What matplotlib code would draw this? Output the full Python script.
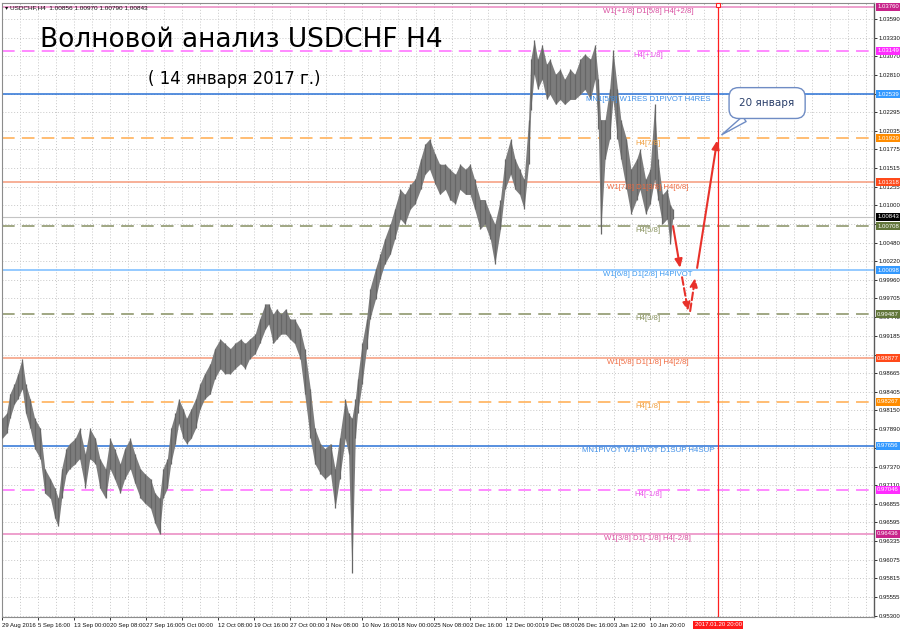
import matplotlib
matplotlib.use('Agg')
import matplotlib.pyplot as plt
import matplotlib.transforms as mtransforms
import numpy as np

# H4 bars (bar index, high, low)
bar = [0, 4, 7, 11, 14, 18, 21, 25, 29, 34, 38, 43, 47, 50, 53, 57, 60, 65, 69, 74,
       78, 83, 87, 92, 96, 100, 105, 109, 114, 118, 123, 127, 132, 136, 140, 143, 147, 150, 154, 157,
       161, 164, 168, 172, 176, 180, 185, 189, 194, 198, 203, 207, 212, 216, 220, 225, 229, 234, 237, 241,
       244, 248, 252, 256, 260, 265, 269, 274, 278, 283, 287, 292, 296, 300, 305, 308, 311, 314, 316, 320,
       324, 327, 332, 336, 340, 345, 349, 354, 358, 363, 367, 372, 376, 380, 385, 389, 394, 398, 403, 407,
       412, 416, 420, 425, 429, 434, 438, 443, 447, 452, 456, 460, 464, 468, 470, 473, 476, 480, 484, 487,
       492, 496, 500, 505, 509, 514, 518, 523, 527, 530, 532, 536, 540, 543, 547, 550, 555, 559, 564, 567,
       572, 576, 580, 583, 587, 591, 594, 596]
high = [0.9804, 0.9811, 0.9838, 0.9852, 0.9866, 0.9887, 0.9852, 0.9831, 0.9804, 0.9790,
        0.9734, 0.9720, 0.9707, 0.9693, 0.9734, 0.9762, 0.9769, 0.9776, 0.9790, 0.9755,
        0.9790, 0.9776, 0.9748, 0.9734, 0.9776, 0.9762, 0.9741, 0.9762, 0.9776, 0.9755,
        0.9734, 0.9727, 0.9720, 0.9700, 0.9693, 0.9734, 0.9748, 0.9790, 0.9811, 0.9831,
        0.9817, 0.9804, 0.9817, 0.9831, 0.9852, 0.9866, 0.9880, 0.9901, 0.9914, 0.9908,
        0.9901, 0.9908, 0.9914, 0.9908, 0.9914, 0.9921, 0.9942, 0.9963, 0.9963, 0.9949,
        0.9956, 0.9949, 0.9956, 0.9942, 0.9942, 0.9928, 0.9901, 0.9845, 0.9790, 0.9769,
        0.9762, 0.9769, 0.9734, 0.9776, 0.9831, 0.9811, 0.9804, 0.9831, 0.9859, 0.9908,
        0.9942, 0.9984, 1.0012, 1.0032, 1.0053, 1.0074, 1.0095, 1.0122, 1.0115, 1.0129,
        1.0136, 1.0164, 1.0185, 1.0192, 1.0171, 1.0157, 1.0157, 1.0150, 1.0143, 1.0157,
        1.0150, 1.0157, 1.0136, 1.0108, 1.0108, 1.0088, 1.0074, 1.0108, 1.0164, 1.0192,
        1.0164, 1.0150, 1.0136, 1.0219, 1.0303, 1.0330, 1.0303, 1.0323, 1.0296, 1.0303,
        1.0282, 1.0289, 1.0275, 1.0289, 1.0282, 1.0303, 1.0310, 1.0303, 1.0323, 1.0275,
        1.0219, 1.0219, 1.0261, 1.0316, 1.0261, 1.0219, 1.0192, 1.0150, 1.0164, 1.0178,
        1.0136, 1.0150, 1.0240, 1.0164, 1.0115, 1.0122, 1.0101, 1.0095]
low = [0.9776, 0.9783, 0.9804, 0.9824, 0.9831, 0.9845, 0.9811, 0.9790, 0.9762, 0.9748,
       0.9700, 0.9693, 0.9665, 0.9654, 0.9693, 0.9727, 0.9734, 0.9741, 0.9748, 0.9707,
       0.9748, 0.9741, 0.9707, 0.9693, 0.9734, 0.9720, 0.9700, 0.9720, 0.9734, 0.9714,
       0.9693, 0.9686, 0.9679, 0.9658, 0.9644, 0.9693, 0.9707, 0.9741, 0.9769, 0.9797,
       0.9776, 0.9769, 0.9776, 0.9790, 0.9817, 0.9831, 0.9838, 0.9859, 0.9873, 0.9866,
       0.9866, 0.9873, 0.9880, 0.9873, 0.9887, 0.9894, 0.9908, 0.9928, 0.9935, 0.9908,
       0.9914, 0.9921, 0.9921, 0.9914, 0.9908, 0.9887, 0.9838, 0.9776, 0.9741, 0.9727,
       0.9720, 0.9727, 0.9679, 0.9720, 0.9776, 0.9755, 0.9589, 0.9776, 0.9811, 0.9852,
       0.9901, 0.9942, 0.9970, 0.9998, 1.0018, 1.0032, 1.0053, 1.0081, 1.0074, 1.0095,
       1.0102, 1.0122, 1.0143, 1.0150, 1.0129, 1.0115, 1.0122, 1.0108, 1.0102, 1.0122,
       1.0115, 1.0115, 1.0095, 1.0067, 1.0074, 1.0053, 1.0018, 1.0067, 1.0122, 1.0143,
       1.0122, 1.0115, 1.0095, 1.0157, 1.0233, 1.0282, 1.0261, 1.0275, 1.0247, 1.0254,
       1.0240, 1.0247, 1.0240, 1.0247, 1.0247, 1.0254, 1.0261, 1.0247, 1.0275, 1.0206,
       1.0060, 1.0164, 1.0192, 1.0247, 1.0192, 1.0164, 1.0122, 1.0088, 1.0108, 1.0122,
       1.0088, 1.0102, 1.0136, 1.0108, 1.0074, 1.0081, 1.0046, 1.0081]

# Murrey levels
levels = [1.03760, 1.03149, 1.02539, 1.01929, 1.01318, 1.00708, 1.00098,
          0.99487, 0.98877, 0.98267, 0.97656, 0.97046, 0.96436]
level_names = ['W1[+1/8] D1[5/8] H4[+2/8]', 'H4[+1/8]', 'MN1[5/8] W1RES D1PIVOT H4RES',
               'H4[7/8]', 'W1[7/8] D1[3/8] H4[6/8]', 'H4[5/8]', 'W1[6/8] D1[2/8] H4PIVOT',
               'H4[3/8]', 'W1[5/8] D1[1/8] H4[2/8]', 'H4[1/8]', 'MN1PIVOT W1PIVOT D1SUP H4SUP',
               'H4[-1/8]', 'W1[3/8] D1[-1/8] H4[-2/8]']
level_kind = ['pink', 'magenta', 'blue', 'orange', 'salmon', 'olive', 'lblue',
              'olive', 'salmon', 'orange', 'blue', 'magenta', 'pink']
styles = {  # line colour, text colour, box colour, dashed
    'pink': ('#ea86c0', '#d94fa0', '#c8238a', False),
    'magenta': ('#ff80ff', '#e94fe9', '#ff2cff', True),
    'blue': ('#2a72d6', '#3f8fe8', '#3399ff', False),
    'orange': ('#ffb868', '#f0a040', '#ff8c00', True),
    'salmon': ('#f59a7a', '#f06a40', '#ff4a1a', False),
    'olive': ('#98a07a', '#8a9460', '#62763a', True),
    'lblue': ('#78bcff', '#3f9af0', '#3399ff', False),
}
last_price = 1.00843

ytick_vals = [1.03590, 1.03330, 1.03070, 1.02810, 1.02550, 1.02295, 1.02035, 1.01775, 1.01515,
              1.01255, 1.01000, 1.00740, 1.00480, 1.00220, 0.99960, 0.99705, 0.99445, 0.99185,
              0.98925, 0.98665, 0.98405, 0.98150, 0.97890, 0.97630, 0.97370, 0.97110, 0.96855,
              0.96595, 0.96335, 0.96075, 0.95815, 0.95555, 0.95300]
# these four sit right under a level box in the reference
hidden_ticks = [1.02550, 1.00740, 0.98925, 0.97630]
xtick_pos = [0, 32, 64, 96, 128, 160, 192, 224, 256, 288, 320, 352, 384, 416, 448, 480, 512, 544, 576]
xtick_labels = ['29 Aug 2016', '5 Sep 16:00', '13 Sep 00:00', '20 Sep 08:00', '27 Sep 16:00',
                '5 Oct 00:00', '12 Oct 08:00', '19 Oct 16:00', '27 Oct 00:00', '3 Nov 08:00',
                '10 Nov 16:00', '18 Nov 00:00', '25 Nov 08:00', '2 Dec 16:00', '12 Dec 00:00',
                '19 Dec 08:00', '26 Dec 16:00', '3 Jan 12:00', '10 Jan 20:00']

# forecast path (bar, price)
fc_down = [(596.4, 1.0071), (602.7, 1.0013)]
fc_dash1 = [(604.4, 1.0000), (609.8, 0.9953)]
fc_dash2 = [(611.6, 0.9953), (616.0, 0.9999)]
fc_up = [(617.8, 1.0013), (635.6, 1.0190)]
target_bar = 636.4

small = 'Liberation Sans'

fig = plt.figure(figsize=(9, 6.29), dpi=100)
ax = fig.add_axes([2/900, 12/629, 872/900, 614/629])
ax.set_xlim(0, 775)
ax.set_ylim(0.9528, 1.0381)

# grid
ax.set_xticks(np.arange(0, 776, 16), minor=True)
ax.set_yticks(ytick_vals)
ax.grid(True, which='both', axis='x', color='#c8c8c8', ls=(0, (1, 2)), lw=0.7)
ax.grid(True, which='major', axis='y', color='#c8c8c8', ls=(0, (1, 2)), lw=0.7)
ax.tick_params(axis='x', which='minor', length=0)

# levels
for lv, name, kind in zip(levels, level_names, level_kind):
    lc, tc, bc, dashed = styles[kind]
    ax.axhline(lv, color=lc, lw=1.3 if dashed else 1.1, ls=(0, (7, 4)) if dashed else '-', zorder=2)
    ax.text(574, lv - 0.00016, name, ha='center', va='top', fontsize=5.6, family=small,
            color=tc, zorder=4)
ax.axhline(last_price, color='#c4c4c4', lw=0.8, zorder=2)

# price bars
ax.fill_between(bar, low, high, color='#7c7c7c', lw=0, zorder=3)
ax.vlines(bar, low, high, color='#666666', lw=0.9, zorder=3)

# target vertical line
ax.axvline(target_bar, color='#ff2020', lw=0.9, zorder=3)
ax.plot([target_bar], [1.0378], marker='s', ms=3, mfc='white', mec='#ff2020', mew=0.8,
        clip_on=False, zorder=5)

# forecast arrows
for seg, ls in [(fc_down, '-'), (fc_dash1, '--'), (fc_dash2, '--'), (fc_up, '-')]:
    ax.annotate('', xy=seg[1], xytext=seg[0],
                arrowprops=dict(arrowstyle='-|>,head_length=0.5,head_width=0.22', color='#e8312a',
                                lw=1.5, ls=ls, shrinkA=0, shrinkB=0), zorder=6)

# callout
ax.annotate('20 января', xy=(639.7, 1.0198), xytext=(680, 1.0242), ha='center', va='center',
            fontsize=7.5, color='#2a3f6a',
            bbox=dict(boxstyle='round,pad=1.0,rounding_size=0.9', fc='white', ec='#6f8cc4', lw=1),
            arrowprops=dict(arrowstyle='wedge,tail_width=0.6', fc='white', ec='#6f8cc4', lw=1,
                            shrinkA=0, shrinkB=0), zorder=7)

# axes
ax.yaxis.tick_right()
ax.tick_params(axis='y', which='major', length=2, width=0.6, labelsize=4.3, pad=1.5, colors='#111111')
ax.set_yticklabels(['' if v in hidden_ticks else '%.5f' % v for v in ytick_vals], family=small)
ax.set_xticks(xtick_pos)
ax.set_xticklabels(xtick_labels, family=small)
ax.tick_params(axis='x', which='major', length=2, width=0.6, labelsize=4.3, pad=2.5, colors='#111111')
for lab in ax.get_xticklabels():
    lab.set_ha('left')
for side in ['left', 'top', 'bottom']:
    ax.spines[side].set_color('#8c8c8c')
    ax.spines[side].set_linewidth(0.8)
ax.spines['right'].set_color('#5a5a5a')
ax.spines['right'].set_linewidth(1.0)

# right-hand price boxes
trans = mtransforms.blended_transform_factory(ax.transAxes, ax.transData)
for lv, kind in zip(levels, level_kind):
    ax.text(1.0035, lv, '%.5f' % lv, transform=trans, ha='left', va='center', fontsize=4.3,
            family=small, color='white', clip_on=False, zorder=8,
            bbox=dict(boxstyle='square,pad=0.25', fc=styles[kind][2], ec='none'))
ax.text(1.0035, last_price, '%.5f' % last_price, transform=trans, ha='left', va='center',
        fontsize=4.3, family=small, color='white', clip_on=False, zorder=8,
        bbox=dict(boxstyle='square,pad=0.25', fc='black', ec='none'))

# red date label on time axis
transx = mtransforms.blended_transform_factory(ax.transData, ax.transAxes)
ax.text(target_bar, -0.0085, '2017.01.20 20:00', transform=transx, ha='center', va='top',
        fontsize=4.3, family=small, color='white', clip_on=False, zorder=8,
        bbox=dict(boxstyle='square,pad=0.25', fc='#ff1a1a', ec='none'))

# header and titles
fig.text(5/900, 1 - 8/629, '\u25be USDCHF,H4  1.00856 1.00970 1.00790 1.00843', fontsize=4.6,
         family=['Liberation Sans', 'DejaVu Sans'], va='center', ha='left', color='#111111')
fig.text(40/900, 1 - 47/629, 'Волновой анализ USDCHF H4', fontsize=19, va='baseline', ha='left',
         color='black')
fig.text(148/900, 1 - 84/629, '( 14 января 2017 г.)', fontsize=12, va='baseline', ha='left',
         color='black')

fig.savefig('out.png', dpi=100)
